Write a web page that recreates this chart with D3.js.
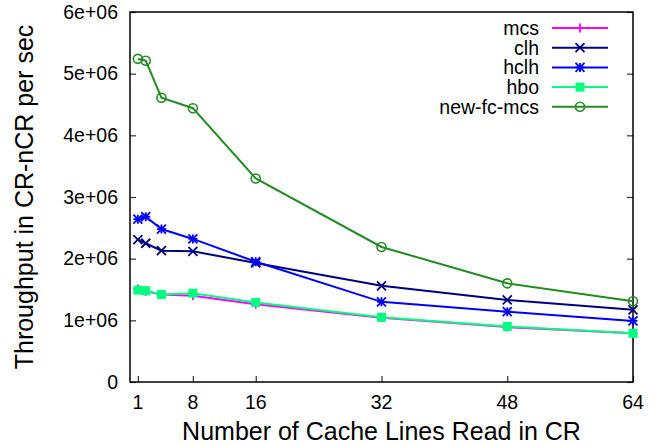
<!DOCTYPE html>
<meta charset="utf-8">
<style>
  body { margin: 0; background: #fff; }
  text { font-family: "Liberation Sans", Arial, Helvetica, sans-serif; }
</style>
<body></body>
<script src="https://cdn.jsdelivr.net/npm/d3@7"></script>
<script>
  const width = 662
  const height = 446
  const margin = { top: 12, right: 29, bottom: 64, left: 130 }

  // cache lines read in CR
  const xValues = [1, 2, 4, 8, 16, 32, 48, 64]
  const xTicks = [1, 8, 16, 32, 48, 64]
  const yTicks = [0, 1e6, 2e6, 3e6, 4e6, 5e6, 6e6]

  const mcs = [1.51e6, 1.47e6, 1.42e6, 1.40e6, 1.26e6, 1.04e6, 0.89e6, 0.79e6]
  const clh = [2.31e6, 2.25e6, 2.13e6, 2.12e6, 1.93e6, 1.56e6, 1.33e6, 1.17e6]
  const hclh = [2.64e6, 2.68e6, 2.48e6, 2.32e6, 1.95e6, 1.30e6, 1.14e6, 0.99e6]
  const hbo = [1.49e6, 1.48e6, 1.42e6, 1.44e6, 1.29e6, 1.05e6, 0.90e6, 0.79e6]
  const newFcMcs = [5.24e6, 5.21e6, 4.61e6, 4.44e6, 3.30e6, 2.19e6, 1.60e6, 1.31e6]

  const series = [
    { name: "mcs", values: mcs, color: "#ff00ff", marker: "plus" },
    { name: "clh", values: clh, color: "#000080", marker: "cross" },
    { name: "hclh", values: hclh, color: "#0000ff", marker: "star" },
    { name: "hbo", values: hbo, color: "#00ff7f", marker: "square" },
    { name: "new-fc-mcs", values: newFcMcs, color: "#228b22", marker: "circle" }
  ]

  const x = d3.scaleLinear()
    .domain([0, 64])
    .range([margin.left, width - margin.right])

  const y = d3.scaleLinear()
    .domain([0, 6e6])
    .range([height - margin.bottom, margin.top])

  // gnuplot style %g labels
  const fmt = v => v === 0 ? "0" : (v / 1e6) + "e+06"

  const svg = d3.select("body")
    .append("svg")
    .attr("width", width)
    .attr("height", height)

  // inward ticks, left and mirrored right
  const yAxisL = svg.append("g")
    .attr("transform", `translate(${margin.left},0)`)
    .call(d3.axisRight(y).tickValues(yTicks).tickSize(6).tickFormat(""))
  const yAxisR = svg.append("g")
    .attr("transform", `translate(${width - margin.right},0)`)
    .call(d3.axisLeft(y).tickValues(yTicks).tickSize(6).tickFormat(""))
  const xAxis = svg.append("g")
    .attr("transform", `translate(0,${height - margin.bottom})`)
    .call(d3.axisTop(x).tickValues(xTicks).tickSize(6).tickFormat(""))

  ;[yAxisL, yAxisR, xAxis].forEach(g => {
    g.select(".domain").remove()
    g.selectAll(".tick line").attr("stroke", "#333").attr("stroke-width", 1.2)
  })

  svg.append("g")
    .selectAll("text")
    .data(yTicks)
    .join("text")
    .attr("x", margin.left - 12)
    .attr("y", d => y(d))
    .attr("dy", "0.35em")
    .attr("text-anchor", "end")
    .attr("font-size", 19.5)
    .text(fmt)

  svg.append("g")
    .selectAll("text")
    .data(xTicks)
    .join("text")
    .attr("x", d => x(d))
    .attr("y", 409)
    .attr("text-anchor", "middle")
    .attr("font-size", 19.5)
    .text(d => d)

  svg.append("rect")
    .attr("x", margin.left)
    .attr("y", margin.top)
    .attr("width", width - margin.left - margin.right)
    .attr("height", height - margin.top - margin.bottom)
    .attr("fill", "none")
    .attr("stroke", "#000")
    .attr("stroke-width", 1.5)

  svg.append("text")
    .attr("x", (margin.left + width - margin.right) / 2)
    .attr("y", 440)
    .attr("text-anchor", "middle")
    .attr("font-size", 25)
    .text("Number of Cache Lines Read in CR")

  svg.append("text")
    .attr("transform", "translate(33,197) rotate(-90)")
    .attr("text-anchor", "middle")
    .attr("font-size", 25)
    .text("Throughput in CR-nCR per sec")

  function drawMarker(g, type, color) {
    const s = 4.5
    if (type === "plus") {
      g.append("path").attr("d", `M${-s},0H${s}M0,${-s}V${s}`)
        .attr("stroke", color).attr("stroke-width", 1.8).attr("fill", "none")
    } else if (type === "cross") {
      g.append("path").attr("d", `M${-s},${-s}L${s},${s}M${-s},${s}L${s},${-s}`)
        .attr("stroke", color).attr("stroke-width", 1.8).attr("fill", "none")
    } else if (type === "star") {
      g.append("path").attr("d", `M${-s},0H${s}M0,${-s}V${s}M${-s},${-s}L${s},${s}M${-s},${s}L${s},${-s}`)
        .attr("stroke", color).attr("stroke-width", 1.8).attr("fill", "none")
    } else if (type === "square") {
      g.append("rect").attr("x", -s).attr("y", -s).attr("width", 2 * s).attr("height", 2 * s)
        .attr("fill", color)
    } else if (type === "circle") {
      g.append("circle").attr("r", s)
        .attr("stroke", color).attr("stroke-width", 1.6).attr("fill", "none")
    }
  }

  const line = d3.line()
    .x((d, i) => x(xValues[i]))
    .y(d => y(d))

  series.forEach(s => {
    const g = svg.append("g")
    g.append("path")
      .datum(s.values)
      .attr("d", line)
      .attr("fill", "none")
      .attr("stroke", s.color)
      .attr("stroke-width", 2)
    s.values.forEach((v, i) => {
      const m = g.append("g").attr("transform", `translate(${x(xValues[i])},${y(v)})`)
      drawMarker(m, s.marker, s.color)
    })
  })

  // legend
  const legend = svg.append("g")
  series.forEach((s, i) => {
    const ly = 28 + i * 19.7
    legend.append("text")
      .attr("x", 539)
      .attr("y", ly)
      .attr("dy", "0.35em")
      .attr("text-anchor", "end")
      .attr("font-size", 19.5)
      .text(s.name)
    legend.append("line")
      .attr("x1", 552).attr("x2", 608)
      .attr("y1", ly).attr("y2", ly)
      .attr("stroke", s.color)
      .attr("stroke-width", 2)
    const m = legend.append("g").attr("transform", `translate(580,${ly})`)
    drawMarker(m, s.marker, s.color)
  })
</script>
